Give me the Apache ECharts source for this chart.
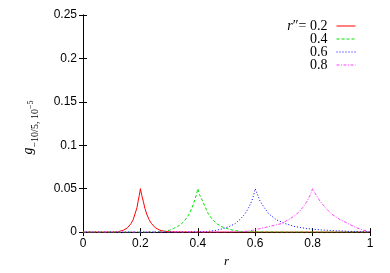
<!DOCTYPE html>
<html><head><meta charset="utf-8">
<script src="https://cdn.jsdelivr.net/npm/echarts@6/dist/echarts.min.js"></script>
<style>html,body{margin:0;padding:0;background:#fff}#c{width:390px;height:273px}</style>
</head><body><div id="c"></div>
<script>
const xTicks = [0, 0.2, 0.4, 0.6, 0.8, 1];
const yTicks = [0, 0.05, 0.1, 0.15, 0.2, 0.25];
const seriesNames = ['0.2', '0.4', '0.6', '0.8'];
const curve02 = [[0,0],[0.1,0],[0.12,0.0003],[0.141,0.0022],[0.155,0.005],[0.167,0.0097],[0.175,0.0145],[0.181,0.0208],[0.188,0.028],[0.192,0.0356],[0.196,0.042],[0.2,0.05],[0.205,0.042],[0.21,0.0356],[0.216,0.027],[0.222,0.0208],[0.23,0.0145],[0.239,0.0097],[0.252,0.005],[0.268,0.0022],[0.285,0.0008],[0.31,0.0002],[0.4,0],[1,0]];
const curve04 = [[0,0],[0.2,0],[0.25,0.0001],[0.28,0.0008],[0.3,0.002],[0.315,0.0041],[0.33,0.0065],[0.344,0.0097],[0.358,0.015],[0.37,0.0208],[0.38,0.028],[0.388,0.0356],[0.395,0.043],[0.4,0.05],[0.406,0.043],[0.417,0.0356],[0.427,0.028],[0.437,0.0208],[0.45,0.015],[0.466,0.0097],[0.482,0.0065],[0.5,0.0041],[0.525,0.002],[0.55,0.0008],[0.6,0.0002],[0.7,0],[1,0]];
const curve06 = [[0,0],[0.3,0],[0.4,0.0002],[0.43,0.0006],[0.46,0.0018],[0.489,0.0041],[0.51,0.0065],[0.53,0.0097],[0.548,0.015],[0.564,0.0208],[0.577,0.028],[0.588,0.0356],[0.595,0.043],[0.6,0.05],[0.607,0.044],[0.617,0.0356],[0.632,0.028],[0.648,0.0208],[0.675,0.014],[0.705,0.0097],[0.74,0.0062],[0.78,0.0041],[0.83,0.0025],[0.884,0.0015],[0.94,0.0007],[1,0.0002]];
const curve08 = [[0,0],[0.4,0],[0.5,0.0001],[0.56,0.0006],[0.59,0.002],[0.617,0.0041],[0.65,0.0065],[0.69,0.0097],[0.72,0.015],[0.745,0.0208],[0.765,0.028],[0.781,0.0356],[0.792,0.043],[0.8,0.05],[0.81,0.044],[0.826,0.0356],[0.845,0.028],[0.866,0.0208],[0.895,0.0145],[0.924,0.0097],[0.95,0.0055],[0.977,0.0022],[1,0.0003]];
const curves = [curve02, curve04, curve06, curve08];
const colors = ['#ff0000', '#00e000', '#0000ff', '#ff40ff'];
const dashes = ['solid', [3, 2], [1, 2], [3, 1.5, 1, 1.5]];

const chart = echarts.init(document.getElementById('c'), null, {renderer: 'canvas'});
const tickFont = {fontFamily: 'Liberation Sans', fontSize: 12, color: '#000'};
const axBase = {
  type: 'value', splitLine: {show: false},
  axisLine: {show: true, lineStyle: {color: '#000', width: 1}},
  axisTick: {show: true, inside: true, length: 4, lineStyle: {color: '#000'}}
};
chart.setOption({
  animation: false,
  grid: {left: 83, right: 20, top: 15, bottom: 36},
  legend: {
    orient: 'vertical', right: 29, top: 14, align: 'right',
    itemWidth: 19, itemHeight: 10, itemGap: -1,
    itemStyle: {opacity: 0},
    lineStyle: {width: 1},
    data: seriesNames,
    formatter: function (n) { return n === '0.2' ? '{i|r}″= 0.2' : n; },
    textStyle: {fontFamily: 'Liberation Serif', fontSize: 14, lineHeight: 13, color: '#000', width: 50, align: 'right', padding: [0, 4, 0, 0],
      rich: {i: {fontFamily: 'Liberation Serif', fontStyle: 'italic', fontSize: 14, lineHeight: 13, color: '#000'}}}
  },
  xAxis: [
    Object.assign({}, axBase, {min: 0, max: 1, interval: 0.2, position: 'bottom',
      axisLabel: Object.assign({margin: 6, formatter: v => String(v)}, tickFont),
      name: 'r', nameLocation: 'middle', nameGap: 20,
      nameTextStyle: {fontFamily: 'Liberation Serif', fontStyle: 'italic', fontSize: 13, color: '#000'}}),
    Object.assign({}, axBase, {min: 0, max: 1, interval: 0.2, position: 'top', axisLabel: {show: false}})
  ],
  yAxis: [
    Object.assign({}, axBase, {min: 0, max: 0.25, interval: 0.05, position: 'left',
      axisLabel: Object.assign({margin: 6}, tickFont),
      name: '{g|g}{s|−10/5, 10}{p|−5}', nameLocation: 'middle', nameGap: 48, nameRotate: 90,
      nameTextStyle: {padding: [0, 8, 0, 0], rich: {
        g: {fontFamily: 'Liberation Serif', fontStyle: 'italic', fontSize: 14, color: '#000'},
        s: {fontFamily: 'Liberation Serif', fontSize: 10, color: '#000', verticalAlign: 'bottom', padding: [0, 0, -5, 0]},
        p: {fontFamily: 'Liberation Serif', fontSize: 8, color: '#000', verticalAlign: 'bottom', padding: [0, 0, 0, 0]}
      }}}),
    Object.assign({}, axBase, {min: 0, max: 0.25, interval: 0.05, position: 'right', axisLabel: {show: false}})
  ],
  series: curves.map((d, i) => ({
    name: seriesNames[i], type: 'line', data: d, showSymbol: false, symbol: 'none',
    lineStyle: {color: colors[i], width: 1, type: dashes[i]},
    itemStyle: {color: colors[i]}
  }))
});
</script></body></html>
